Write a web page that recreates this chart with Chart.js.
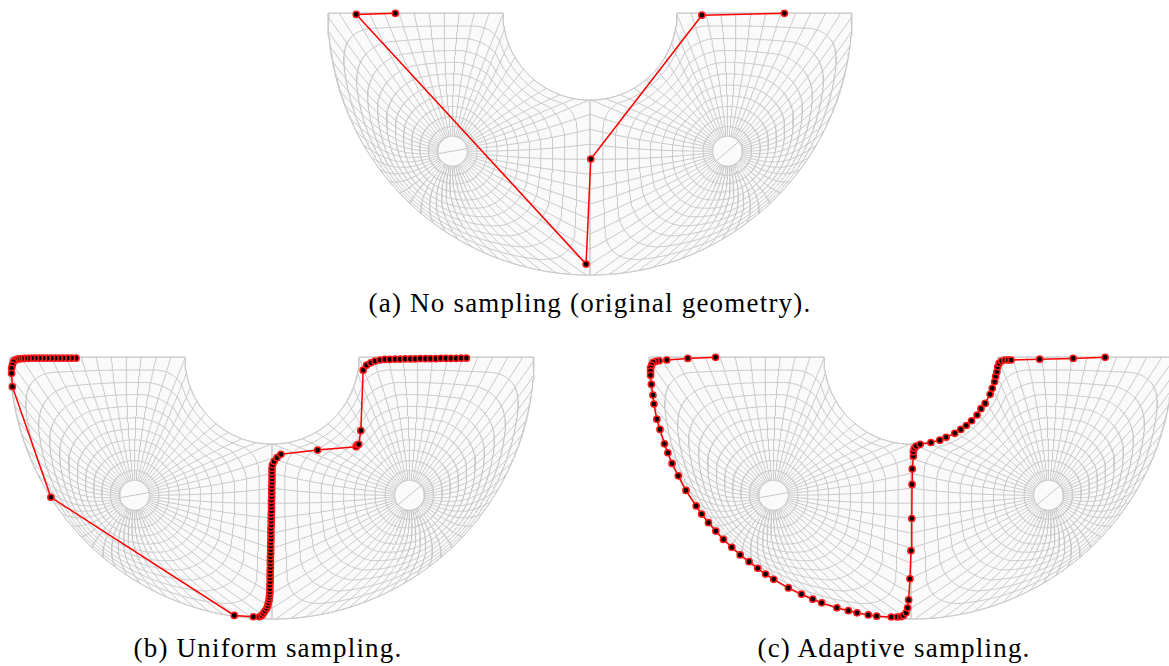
<!DOCTYPE html>
<html>
<head>
<meta charset="utf-8">
<script src="https://cdn.jsdelivr.net/npm/chart.js@4.4.1/dist/chart.umd.min.js"></script>
<style>
  html, body { margin: 0; padding: 0; background: #ffffff; }
  body { position: relative; width: 1169px; height: 666px; overflow: hidden; }
  .panel { position: absolute; }
  .panel canvas { display: block; }
  .cap { position: absolute; width: 600px; text-align: center; white-space: nowrap;
         font-family: "Liberation Serif", "DejaVu Serif", serif; font-size: 27px;
         letter-spacing: 1.2px; line-height: 30px; color: #000; }
</style>
</head>
<body>
<div class="panel" id="panelA"><canvas id="chartA" width="560" height="288"></canvas></div>
<div class="panel" id="panelB"><canvas id="chartB" width="560" height="288"></canvas></div>
<div class="panel" id="panelC"><canvas id="chartC" width="560" height="288"></canvas></div>
<div class="cap" id="capA"></div>
<div class="cap" id="capB"></div>
<div class="cap" id="capC"></div>
<script>
// Path vertices in units of the outer radius; origin at the centre of the half ring, y up.
const originalX = [-0.743, -0.892, -0.015, 0.003, 0.427, 0.742];
const originalY = [-0.001, -0.005, -0.958, -0.557, -0.008, -0.001];

const uniformX = [
  -0.748, -0.765, -0.781, -0.797, -0.812, -0.827, -0.842, -0.858, -0.873, -0.888,
  -0.903, -0.917, -0.931, -0.944, -0.955, -0.966, -0.974, -0.982,
  -0.987, -0.991, -0.994, -0.994, -0.991,
  -0.844,
  -0.144, -0.071, -0.048, -0.039, -0.033, -0.027, -0.020, -0.016, -0.014, -0.011,
  -0.010, -0.009, -0.008,
  -0.008, -0.008, -0.007, -0.007, -0.007, -0.007, -0.006, -0.006, -0.006, -0.006,
  -0.005, -0.005, -0.005, -0.005, -0.004, -0.004, -0.004, -0.004, -0.003, -0.003,
  -0.003, -0.003, -0.002, -0.002, -0.002, -0.002, -0.001, -0.001, -0.001, -0.001,
  0.000, 0.000, 0.000, 0.000, 0.000,
  0.002, 0.008, 0.019, 0.034,
  0.174,
  0.321, 0.326, 0.331, 0.339, 0.348, 0.361, 0.377, 0.393,
  0.412, 0.431, 0.450, 0.470, 0.489, 0.508, 0.528, 0.547, 0.566, 0.586,
  0.605, 0.625, 0.644, 0.664, 0.683, 0.703, 0.722, 0.742
];
const uniformY = [
  -0.004, -0.004, -0.004, -0.004, -0.004, -0.004, -0.004, -0.004, -0.004, -0.004,
  -0.004, -0.004, -0.005, -0.005, -0.006, -0.007, -0.009, -0.012,
  -0.018, -0.031, -0.043, -0.062, -0.113,
  -0.535,
  -0.986, -0.991, -0.991, -0.986, -0.978, -0.969, -0.959, -0.949, -0.938, -0.927,
  -0.917, -0.907, -0.897,
  -0.884, -0.870, -0.857, -0.843, -0.830, -0.816, -0.803, -0.789, -0.776, -0.762,
  -0.749, -0.735, -0.722, -0.708, -0.695, -0.681, -0.668, -0.654, -0.641, -0.627,
  -0.614, -0.600, -0.587, -0.573, -0.560, -0.546, -0.533, -0.519, -0.506, -0.492,
  -0.479, -0.465, -0.452, -0.438, -0.425, -0.411, -0.398, -0.384, -0.371,
  -0.355, -0.342, -0.335, -0.333,
  -0.281,
  -0.050, -0.031, -0.022, -0.015, -0.011, -0.009, -0.009, -0.008,
  -0.008, -0.007, -0.007, -0.007, -0.006, -0.006, -0.006, -0.006, -0.005, -0.005,
  -0.005, -0.005, -0.004, -0.004, -0.004, -0.004, -0.003, -0.003
];

const adaptiveX = [
  -0.746, -0.852, -0.932, -0.961, -0.973, -0.984, -0.990, -0.994, -0.994, -0.994,
  -0.991, -0.985, -0.981, -0.970, -0.958, -0.941, -0.928, -0.912, -0.888, -0.859,
  -0.820, -0.799, -0.773, -0.745, -0.716, -0.684, -0.652, -0.618, -0.585, -0.555,
  -0.524, -0.468, -0.418, -0.375, -0.341, -0.283, -0.239, -0.206, -0.163, -0.131,
  -0.075, -0.053, -0.039, -0.029, -0.019, -0.013, -0.009, -0.004, 0.000, 0.003,
  0.004, 0.005, 0.009, 0.009, 0.013, 0.020, 0.035, 0.076, 0.110, 0.134,
  0.167, 0.190, 0.211, 0.231, 0.252, 0.267, 0.283, 0.302, 0.310, 0.319,
  0.323, 0.328, 0.331, 0.336, 0.346, 0.358, 0.371, 0.382, 0.491, 0.619,
  0.741
];
const adaptiveY = [
  -0.001, -0.005, -0.011, -0.014, -0.016, -0.020, -0.031, -0.041, -0.053, -0.069,
  -0.104, -0.145, -0.179, -0.237, -0.276, -0.331, -0.365, -0.406, -0.453, -0.509,
  -0.568, -0.599, -0.632, -0.664, -0.696, -0.726, -0.755, -0.781, -0.806, -0.828,
  -0.848, -0.881, -0.905, -0.924, -0.938, -0.957, -0.968, -0.976, -0.984, -0.989,
  -0.992, -0.992, -0.991, -0.986, -0.976, -0.957, -0.927, -0.846, -0.739, -0.616,
  -0.486, -0.427, -0.378, -0.361, -0.348, -0.340, -0.333, -0.326, -0.317, -0.306,
  -0.291, -0.276, -0.261, -0.243, -0.221, -0.197, -0.177, -0.142, -0.119, -0.094,
  -0.073, -0.056, -0.037, -0.024, -0.015, -0.011, -0.011, -0.011, -0.008, -0.005,
  -0.001
];

const captions = [
  '(a) No sampling (original geometry).',
  '(b) Uniform sampling.',
  '(c) Adaptive sampling.'
];

// Half-ring geometry and parameter mesh settings.
const innerRadius = 0.332;
const holeCentre = [0.525, -0.527];   // right-hand hole; the left one is its mirror
const holeRadius = 0.057;
const loopCount = 11;                 // rings between hole and outline
const spokeCount = 60;                // spokes around each hole
const ringGrowth = 0.40;              // radial reach of the rings if unconstrained
const spokeBend = 1.6;                // how late spokes turn towards their outline point
const cornerRounding = 0.55;          // angular smoothing of the inner rings (radians)

// Page layout (pixels).
const pxPerUnit = 262;
const canvasW = 560, canvasH = 288, topMargin = 0.05;
const panels = [
  { id: 'A', centreX: 590, topY: 13,  xs: originalX, ys: originalY, cap: 0, capX: 590, capY: 288 },
  { id: 'B', centreX: 272, topY: 357, xs: uniformX,  ys: uniformY,  cap: 1, capX: 268, capY: 633 },
  { id: 'C', centreX: 911, topY: 357, xs: adaptiveX, ys: adaptiveY, cap: 2, capX: 894, capY: 633 }
];

// Dense outline of the left quarter ring, walked counter-clockwise around its hole.
function quarterOutline() {
  const pts = [];
  const hx = -holeCentre[0];
  const seg = (x0, y0, x1, y1, n) => {
    for (let k = 0; k < n; k++) { const t = k / n; pts.push([x0 + (x1 - x0) * t, y0 + (y1 - y0) * t]); }
  };
  const arc = (r, a0, a1, n) => {
    for (let k = 0; k < n; k++) { const a = a0 + (a1 - a0) * k / n; pts.push([r * Math.cos(a), r * Math.sin(a)]); }
  };
  seg(hx, 0, -1, 0, 150);
  arc(1, Math.PI, 1.5 * Math.PI, 500);
  seg(0, -1, 0, -innerRadius, 150);
  arc(innerRadius, 1.5 * Math.PI, Math.PI, 200);
  seg(-innerRadius, 0, hx, 0, 60);
  pts.push([hx, 0]);
  const cum = [0];
  for (let k = 1; k < pts.length; k++) {
    cum.push(cum[k - 1] + Math.hypot(pts[k][0] - pts[k - 1][0], pts[k][1] - pts[k - 1][1]));
  }
  return { pts, cum, total: cum[cum.length - 1] };
}

function outlineAt(o, s) {
  s = ((s % 1) + 1) % 1;
  const L = s * o.total;
  let lo = 0, hi = o.cum.length - 1;
  while (hi - lo > 1) { const m = (lo + hi) >> 1; if (o.cum[m] <= L) lo = m; else hi = m; }
  const span = o.cum[hi] - o.cum[lo] || 1;
  const t = (L - o.cum[lo]) / span;
  return [o.pts[lo][0] + (o.pts[hi][0] - o.pts[lo][0]) * t, o.pts[lo][1] + (o.pts[hi][1] - o.pts[lo][1]) * t];
}

const wrapAngle = a => Math.atan2(Math.sin(a), Math.cos(a));

// Grading along a spoke: starts with slope g and reaches 1 at t = 1.
const rateCache = new Map();
function gradingRate(g) {
  const key = Math.round(g * 2000);
  if (rateCache.has(key)) return rateCache.get(key);
  let lo = -30, hi = 30;
  for (let k = 0; k < 50; k++) {
    const a = (lo + hi) / 2;
    const slope = Math.abs(a) < 1e-9 ? 1 : a / (1 - Math.exp(-a));
    if (slope < g) lo = a; else hi = a;
  }
  rateCache.set(key, (lo + hi) / 2);
  return (lo + hi) / 2;
}
function grading(a, t) {
  return Math.abs(a) < 1e-9 ? t : (1 - Math.exp(-a * t)) / (1 - Math.exp(-a));
}

// Ring-and-spoke mesh of the left quarter ring around its hole.
function buildQuarterMesh() {
  const o = quarterOutline();
  const cx = -holeCentre[0], cy = holeCentre[1];

  // distance from the hole centre to the outline, tabulated by direction
  const tabN = 720, distTab = new Float64Array(tabN);
  for (let k = 0; k < tabN; k++) {
    const a = 2 * Math.PI * k / tabN, ux = Math.cos(a), uy = Math.sin(a);
    let best = Infinity;
    for (let m = 0; m + 1 < o.pts.length; m++) {
      const [x0, y0] = o.pts[m], [x1, y1] = o.pts[m + 1];
      const ex = x1 - x0, ey = y1 - y0, qx = x0 - cx, qy = y0 - cy;
      const den = ux * ey - uy * ex;
      if (Math.abs(den) < 1e-12) continue;
      const r = (qx * ey - qy * ex) / den;
      const v = (qx * uy - qy * ux) / den;
      if (r > 0 && v >= -1e-9 && v <= 1 + 1e-9 && r < best) best = r;
    }
    distTab[k] = best;
  }
  // smoothed copies of the table round off the outline's corners for inner rings
  const tables = new Map();
  const tableFor = sig => {
    const key = Math.round(sig * 200);
    if (tables.has(key)) return tables.get(key);
    let out = distTab;
    if (key > 0) {
      const s = key / 200, step = 2 * Math.PI / tabN, half = Math.ceil(3 * s / step);
      const w = [];
      let ws = 0;
      for (let m = -half; m <= half; m++) { const v = Math.exp(-0.5 * (m * step / s) ** 2); w.push(v); ws += v; }
      out = new Float64Array(tabN);
      for (let k = 0; k < tabN; k++) {
        let acc = 0;
        for (let m = -half; m <= half; m++) acc += w[m + half] * distTab[(((k + m) % tabN) + tabN) % tabN];
        out[k] = Math.min(acc / ws, distTab[k]);
      }
    }
    tables.set(key, out);
    return out;
  };
  const distAt = (a, t) => {
    const tab = tableFor(cornerRounding * Math.pow(Math.max(0, 1 - t), 0.7));
    const f = ((((a / (2 * Math.PI)) % 1) + 1) % 1) * tabN, k = Math.floor(f) % tabN, w = f - Math.floor(f);
    return tab[k] * (1 - w) + tab[(k + 1) % tabN] * w;
  };

  // pick where spoke 0 meets the outline so that spokes twist as little as possible
  const a0 = Math.PI / 2;
  let bestOff = 0, bestErr = Infinity;
  for (let k = 0; k < 400; k++) {
    const off = k / 400;
    let err = 0;
    for (let j = 0; j < 80; j++) {
      const s = j / 80, b = outlineAt(o, s + off);
      const d = wrapAngle(Math.atan2(b[1] - cy, b[0] - cx) - (a0 + 2 * Math.PI * s));
      err += d * d;
    }
    if (err < bestErr) { bestErr = err; bestOff = off; }
  }

  const point = (s, t) => {
    const alpha = a0 + 2 * Math.PI * s;
    const b = outlineAt(o, s + bestOff);
    const beta = alpha + wrapAngle(Math.atan2(b[1] - cy, b[0] - cx) - alpha);
    const phi = alpha + (beta - alpha) * Math.pow(t, spokeBend);
    const D = distAt(phi, t);
    const room = D - holeRadius;
    const r = holeRadius + room * grading(gradingRate(ringGrowth / room), t);
    return [cx + r * Math.cos(phi), cy + r * Math.sin(phi)];
  };

  const lines = [];
  const ringSamples = 480, spokeSamples = 60;
  for (let q = 0; q <= loopCount; q++) {
    const t = q / loopCount, line = [];
    if (q === loopCount) {
      for (let k = 0; k <= ringSamples; k++) line.push(outlineAt(o, k / ringSamples));
    } else {
      for (let k = 0; k <= ringSamples; k++) line.push(point(k / ringSamples, t));
    }
    lines.push(line);
  }
  for (let p = 0; p < spokeCount; p++) {
    const s = p / spokeCount, line = [];
    for (let k = 0; k <= spokeSamples; k++) line.push(point(s, k / spokeSamples));
    lines.push(line);
  }
  return lines;
}

function seam(cx, cy, deg) {
  const a = deg * Math.PI / 180;
  return [[cx + holeRadius * Math.cos(a), cy + holeRadius * Math.sin(a)],
          [cx - holeRadius * Math.cos(a), cy - holeRadius * Math.sin(a)]];
}

const leftMesh = buildQuarterMesh();
const rightMesh = leftMesh.map(l => l.map(p => [-p[0], p[1]]));
const meshLines = leftMesh.concat(rightMesh,
  [seam(-holeCentre[0], holeCentre[1], 190), seam(holeCentre[0], holeCentre[1], 40)]);

// Closed outline of the whole half ring, used for the light surface fill.
const ringOutline = (() => {
  const pts = [];
  for (let k = 0; k <= 360; k++) { const a = Math.PI + Math.PI * k / 360; pts.push({ x: Math.cos(a), y: Math.sin(a) }); }
  for (let k = 0; k <= 180; k++) { const a = 2 * Math.PI - Math.PI * k / 180; pts.push({ x: innerRadius * Math.cos(a), y: innerRadius * Math.sin(a) }); }
  pts.push({ x: -1, y: 0 });
  return pts;
})();

function makeChart(panel) {
  const holder = document.getElementById('panel' + panel.id);
  holder.style.left = (panel.centreX - canvasW / 2) + 'px';
  holder.style.top = (panel.topY - topMargin * pxPerUnit) + 'px';

  const datasets = [];
  datasets.push({
    data: panel.xs.map((x, k) => ({ x, y: panel.ys[k] })),
    showLine: true, borderColor: '#ff0000', borderWidth: 1.5,
    pointRadius: 3.1, pointBackgroundColor: '#000000',
    pointBorderColor: '#ff1a1a', pointBorderWidth: 1.5,
    tension: 0, order: 0
  });
  meshLines.forEach(line => datasets.push({
    data: line.map(p => ({ x: p[0], y: p[1] })),
    showLine: true, borderColor: '#c9c9c9', borderWidth: 1,
    pointRadius: 0, tension: 0, order: 1
  }));
  datasets.push({
    data: ringOutline, showLine: true, borderColor: '#cfcfcf', borderWidth: 1,
    backgroundColor: '#fafafa', fill: 'shape', pointRadius: 0, tension: 0, order: 2
  });

  new Chart(document.getElementById('chart' + panel.id), {
    type: 'scatter',
    data: { datasets },
    options: {
      responsive: false, animation: false, devicePixelRatio: 1, events: [],
      layout: { padding: 0, autoPadding: false },
      plugins: { legend: { display: false }, tooltip: { enabled: false } },
      scales: {
        x: { type: 'linear', display: false, min: -canvasW / 2 / pxPerUnit, max: canvasW / 2 / pxPerUnit },
        y: { type: 'linear', display: false, min: topMargin - canvasH / pxPerUnit, max: topMargin }
      }
    }
  });

  const cap = document.getElementById('cap' + panel.id);
  cap.textContent = captions[panel.cap];
  cap.style.left = (panel.capX - 300) + 'px';
  cap.style.top = panel.capY + 'px';
}

panels.forEach(makeChart);
</script>
</body>
</html>
